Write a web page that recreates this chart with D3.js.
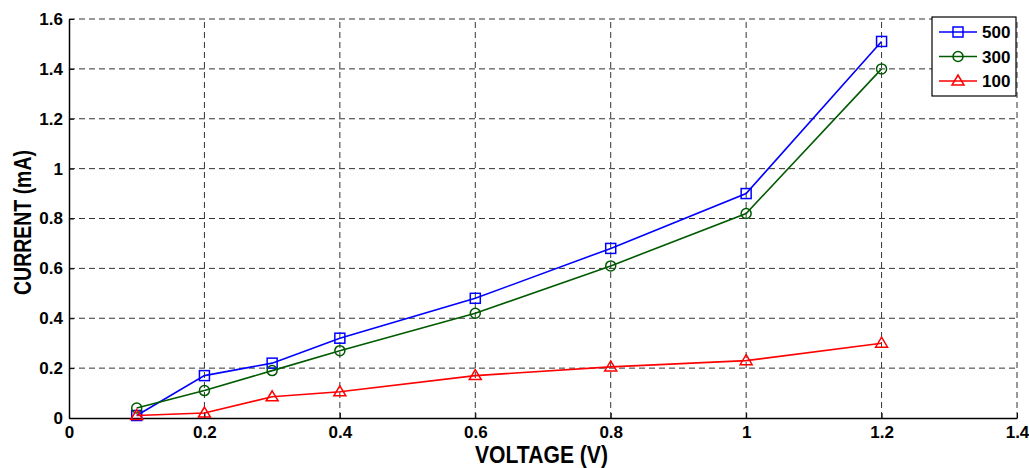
<!DOCTYPE html>
<html>
<head>
<meta charset="utf-8">
<script src="https://cdn.jsdelivr.net/npm/d3@7"></script>
<style>
  body { margin: 0; background: #fff; }
  text { font-family: "Liberation Sans", Arial, sans-serif; font-weight: bold; }
  .grid line { stroke: #333; stroke-dasharray: 6,4; stroke-width: 1; }
</style>
</head>
<body>
<svg id="chart" width="1029" height="468"></svg>
<script>
var voltage = [0.1, 0.2, 0.3, 0.4, 0.6, 0.8, 1.0, 1.2];
var current500 = [0.01, 0.17, 0.22, 0.32, 0.48, 0.68, 0.90, 1.51];
var current300 = [0.04, 0.11, 0.19, 0.27, 0.42, 0.61, 0.82, 1.40];
var current100 = [0.01, 0.02, 0.085, 0.105, 0.17, 0.205, 0.23, 0.30];
var seriesNames = ["500", "300", "100"];
var xTicks = [0, 0.2, 0.4, 0.6, 0.8, 1, 1.2, 1.4];
var yTicks = [0, 0.2, 0.4, 0.6, 0.8, 1, 1.2, 1.4, 1.6];

var series = [
    {name: seriesNames[0], values: current500, color: "#0000ff", marker: "square"},
    {name: seriesNames[1], values: current300, color: "#005a00", marker: "circle"},
    {name: seriesNames[2], values: current100, color: "#ff0000", marker: "triangle"}
];

var plotLeft = 69, plotRight = 1017, plotTop = 19, plotBottom = 418;

var svg = d3.select("#chart");

var x = d3.scaleLinear().domain([0, 1.4]).range([plotLeft, plotRight]);
var y = d3.scaleLinear().domain([0, 1.6]).range([plotBottom, plotTop]);

// grid
svg.append("g").attr("class", "grid")
    .selectAll("line").data(xTicks.slice(1)).enter().append("line")
    .attr("x1", function(d) { return x(d); })
    .attr("x2", function(d) { return x(d); })
    .attr("y1", plotBottom).attr("y2", plotTop);

svg.append("g").attr("class", "grid")
    .selectAll("line").data(yTicks.slice(1)).enter().append("line")
    .attr("x1", plotLeft).attr("x2", plotRight)
    .attr("y1", function(d) { return y(d); })
    .attr("y2", function(d) { return y(d); });

// axes
var xAxis = svg.append("g")
    .attr("transform", "translate(0," + plotBottom + ")")
    .call(d3.axisBottom(x).tickValues(xTicks).tickSizeInner(-5).tickSizeOuter(0).tickPadding(8)
        .tickFormat(function(d) { return d3.format("")(d); }));

var yAxis = svg.append("g")
    .attr("transform", "translate(" + plotLeft + ",0)")
    .call(d3.axisLeft(y).tickValues(yTicks).tickSizeInner(-5).tickSizeOuter(0).tickPadding(6)
        .tickFormat(function(d) { return d3.format("")(d); }));

[xAxis, yAxis].forEach(function(a)
{
    a.select(".domain").attr("stroke", "#000").attr("stroke-width", 1.5);
    a.selectAll(".tick line").attr("stroke", "#000");
    a.selectAll(".tick text").attr("fill", "#000")
        .style("font-size", "17px").style("font-family", "'Liberation Sans', Arial, sans-serif")
        .style("font-weight", "bold");
});

// axis titles (the original font is narrow, so squeeze the glyphs)
svg.append("text")
    .attr("x", 475).attr("y", 463)
    .attr("textLength", 133).attr("lengthAdjust", "spacingAndGlyphs")
    .style("font-size", "24px")
    .text("VOLTAGE (V)");

svg.append("text")
    .attr("transform", "translate(31,295) rotate(-90)")
    .attr("textLength", 145).attr("lengthAdjust", "spacingAndGlyphs")
    .style("font-size", "24px")
    .text("CURRENT (mA)");

function drawMarker(g, type, color)
{
    if (type === "square")
        g.append("rect").attr("x", -5).attr("y", -5).attr("width", 10).attr("height", 10);
    else if (type === "circle")
        g.append("circle").attr("r", 5);
    else
        g.append("path").attr("d", "M0,-6L6,4L-6,4Z");
    g.selectAll("*").attr("fill", "none").attr("stroke", color).attr("stroke-width", 1.5);
}

var line = d3.line()
    .x(function(d) { return x(d[0]); })
    .y(function(d) { return y(d[1]); });

series.forEach(function(s)
{
    var pts = voltage.map(function(v, i) { return [v, s.values[i]]; });
    svg.append("path")
        .datum(pts)
        .attr("d", line)
        .attr("fill", "none")
        .attr("stroke", s.color)
        .attr("stroke-width", 1.6);
    pts.forEach(function(p)
    {
        var g = svg.append("g").attr("transform", "translate(" + x(p[0]) + "," + y(p[1]) + ")");
        drawMarker(g, s.marker, s.color);
    });
});

// legend
var legend = svg.append("g");
legend.append("rect")
    .attr("x", 932).attr("y", 17).attr("width", 84).attr("height", 79)
    .attr("fill", "#fff").attr("stroke", "#000").attr("stroke-width", 1.2);

series.forEach(function(s, i)
{
    var ly = 32 + i * 24.5;
    legend.append("line")
        .attr("x1", 939).attr("x2", 977).attr("y1", ly).attr("y2", ly)
        .attr("stroke", s.color).attr("stroke-width", 1.6);
    var g = legend.append("g").attr("transform", "translate(958," + ly + ")");
    drawMarker(g, s.marker, s.color);
    legend.append("text")
        .attr("x", 982).attr("y", ly + 6)
        .style("font-size", "17px")
        .text(s.name);
});
</script>
</body>
</html>
